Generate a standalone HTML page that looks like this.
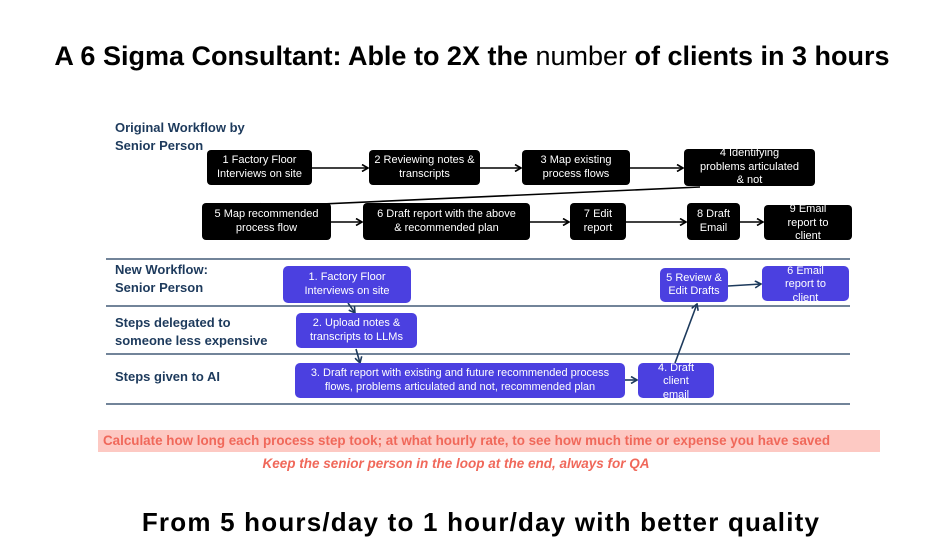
<!DOCTYPE html>
<html><head><meta charset="utf-8"><style>
*{margin:0;padding:0;box-sizing:border-box}
body{width:952px;height:552px;background:#fff;position:relative;overflow:hidden;font-family:"Liberation Sans",sans-serif}
.t{position:absolute;white-space:nowrap}
.b{position:absolute;display:flex;align-items:center;justify-content:center;text-align:center;color:#fff;font-size:11px;line-height:13.5px;border-radius:4px;overflow:hidden;white-space:nowrap}
.k{background:#000}
.p{background:#4b40e0;border-radius:5px}
.lab{position:absolute;color:#1d3a5c;font-weight:bold;font-size:13px;line-height:18px}
</style></head><body>
<div class="t" style="left:0;width:944px;text-align:center;top:41px;font-size:27px;font-weight:bold;color:#000">A 6 Sigma Consultant: Able to 2X the <span style="font-weight:normal">number</span> of clients in 3 hours</div>

<div class="lab" style="left:115px;top:119px">Original Workflow by<br>Senior Person</div>

<svg style="position:absolute;left:0;top:0" width="952" height="552">
<defs><marker id="a" markerWidth="8" markerHeight="8" refX="7" refY="4" orient="auto" markerUnits="userSpaceOnUse"><path d="M1,0.5 L7,4 L1,7.5" fill="none" stroke="#000" stroke-width="1.6"/></marker>
<marker id="c" markerWidth="8" markerHeight="8" refX="7" refY="4" orient="auto" markerUnits="userSpaceOnUse"><path d="M1,0.5 L7,4 L1,7.5" fill="none" stroke="#1d3a5c" stroke-width="1.6"/></marker></defs>
<g stroke="#000" stroke-width="1.6" fill="none" marker-end="url(#a)">
<line x1="312" y1="168" x2="368" y2="168"/>
<line x1="480" y1="168" x2="521" y2="168"/>
<line x1="630" y1="168" x2="683" y2="168"/>
<line x1="700" y1="187" x2="255" y2="207"/>
<line x1="331" y1="222" x2="362" y2="222"/>
<line x1="530" y1="222" x2="569" y2="222"/>
<line x1="626" y1="222" x2="686" y2="222"/>
<line x1="740" y1="222" x2="763" y2="222"/>
</g>
<g stroke="#1d3a5c" stroke-width="1.3">
<line x1="106" y1="259" x2="850" y2="259"/>
<line x1="106" y1="306" x2="850" y2="306"/>
<line x1="106" y1="354" x2="850" y2="354"/>
<line x1="106" y1="404" x2="850" y2="404"/>
</g>
<g stroke="#1d3a5c" stroke-width="1.6" fill="none" marker-end="url(#c)">
<line x1="348" y1="303" x2="355" y2="313"/>
<line x1="356" y1="349" x2="360" y2="363"/>
<line x1="625" y1="380" x2="637" y2="380"/>
<line x1="675" y1="363" x2="697" y2="304"/>
<line x1="728" y1="286" x2="761" y2="284"/>
</g>
</svg>

<div class="b k" style="left:207px;top:150px;width:105px;height:35px">1 Factory Floor<br>Interviews on site</div>
<div class="b k" style="left:369px;top:150px;width:111px;height:35px">2 Reviewing notes &amp;<br>transcripts</div>
<div class="b k" style="left:522px;top:150px;width:108px;height:35px">3 Map existing<br>process flows</div>
<div class="b k" style="left:684px;top:149px;width:131px;height:37px">4 Identifying<br>problems articulated<br>&amp; not</div>
<div class="b k" style="left:202px;top:203px;width:129px;height:37px">5 Map recommended<br>process flow</div>
<div class="b k" style="left:363px;top:203px;width:167px;height:37px">6 Draft report with the above<br>&amp; recommended plan</div>
<div class="b k" style="left:570px;top:203px;width:56px;height:37px">7 Edit<br>report</div>
<div class="b k" style="left:687px;top:203px;width:53px;height:37px">8 Draft<br>Email</div>
<div class="b k" style="left:764px;top:205px;width:88px;height:35px;padding-top:2px">9 Email<br>report to<br>client</div>

<div class="lab" style="left:115px;top:261px">New Workflow:<br>Senior Person</div>
<div class="lab" style="left:115px;top:314px">Steps delegated to<br>someone less expensive</div>
<div class="lab" style="left:115px;top:368px">Steps given to AI</div>

<div class="b p" style="left:283px;top:266px;width:128px;height:37px">1. Factory Floor<br>Interviews on site</div>
<div class="b p" style="left:296px;top:313px;width:121px;height:35px">2. Upload notes &amp;<br>transcripts to LLMs</div>
<div class="b p" style="left:295px;top:363px;width:330px;height:35px">3. Draft report with existing and future recommended process<br>flows, problems articulated and not, recommended plan</div>
<div class="b p" style="left:638px;top:363px;width:76px;height:35px;padding-top:3px">4. Draft<br>client<br>email</div>
<div class="b p" style="left:660px;top:268px;width:68px;height:34px">5 Review &amp;<br>Edit Drafts</div>
<div class="b p" style="left:762px;top:266px;width:87px;height:35px;padding-top:3px">6 Email<br>report to<br>client</div>

<div class="t" style="left:98px;top:430px;width:782px;height:22px;background:#fdc9c3;color:#f0685a;font-weight:bold;font-size:13.4px;line-height:22px;padding-left:5px">Calculate how long each process step took; at what hourly rate, to see how much time or expense you have saved</div>
<div class="t" style="left:0;width:912px;text-align:center;top:456px;color:#f0685a;font-weight:bold;font-style:italic;font-size:13.5px">Keep the senior person in the loop at the end, always for QA</div>

<div class="t" style="left:0;width:962px;text-align:center;top:507px;font-size:26px;font-weight:bold;color:#000;letter-spacing:1.2px">From 5 hours/day to 1 hour/day with better quality</div>
</body></html>
